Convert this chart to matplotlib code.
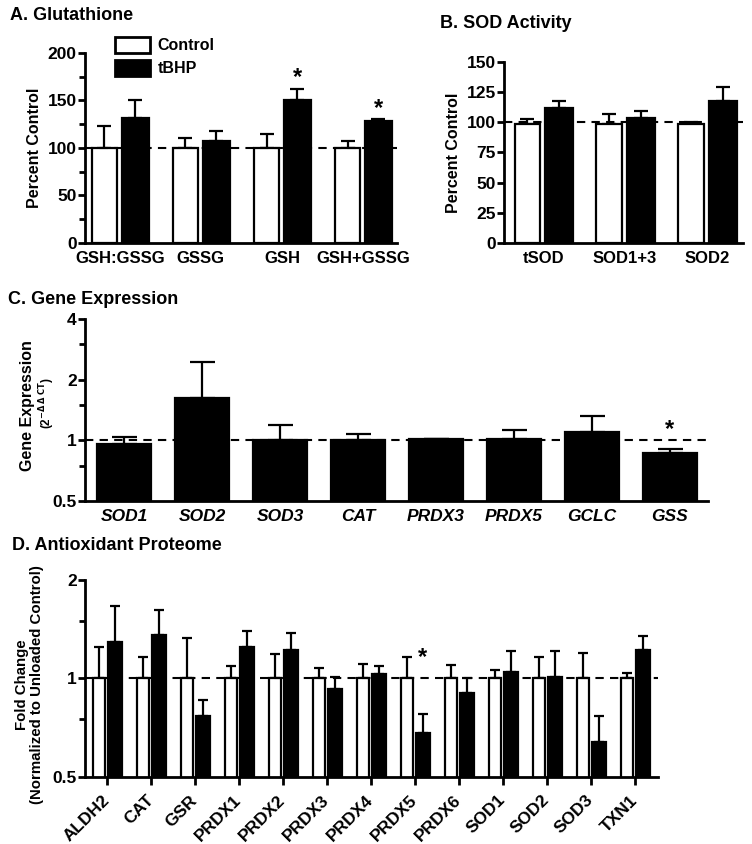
import matplotlib
matplotlib.use('Agg')
import matplotlib.pyplot as plt
from matplotlib.patches import Patch
import numpy as np

plt.rcParams['font.family'] = ['Liberation Sans', 'DejaVu Sans']
plt.rcParams['font.weight'] = 'bold'

# --- A. Glutathione (percent control)
a_cats = ['GSH:GSSG', 'GSSG', 'GSH', 'GSH+GSSG']
a_ctrl = [100, 100, 100, 100]
a_ctrl_top = [123, 111, 115, 107]
a_tbhp = [132, 107, 150, 128]
a_tbhp_top = [150, 118, 162, 130.5]
a_star = {'GSH': 174, 'GSH+GSSG': 142}

# --- B. SOD activity (percent control)
b_cats = ['tSOD', 'SOD1+3', 'SOD2']
b_ctrl = [99, 99, 99]
b_ctrl_top = [103, 107, 100]
b_tbhp = [112, 103.5, 118]
b_tbhp_top = [117.5, 109.5, 129]

# --- C. Gene expression (2^-ddCT)
c_genes = ['SOD1', 'SOD2', 'SOD3', 'CAT', 'PRDX3', 'PRDX5', 'GCLC', 'GSS']
c_vals = [0.96, 1.63, 1.0, 1.0, 1.015, 1.01, 1.10, 0.87]
c_top = [1.035, 2.44, 1.19, 1.08, 1.02, 1.12, 1.32, 0.91]
c_star = {'GSS': 1.13}

# --- D. Antioxidant proteome (fold change)
d_prot = ['ALDH2', 'CAT', 'GSR', 'PRDX1', 'PRDX2', 'PRDX3', 'PRDX4',
          'PRDX5', 'PRDX6', 'SOD1', 'SOD2', 'SOD3', 'TXN1']
d_ctrl = [1.0] * 13
d_ctrl_top = [1.25, 1.16, 1.33, 1.09, 1.19, 1.08, 1.11,
              1.16, 1.10, 1.06, 1.16, 1.20, 1.04]
d_tbhp = [1.29, 1.36, 0.77, 1.25, 1.22, 0.93, 1.03,
          0.68, 0.90, 1.05, 1.01, 0.64, 1.22]
d_tbhp_top = [1.66, 1.62, 0.86, 1.40, 1.38, 1.01, 1.09,
              0.78, 1.00, 1.21, 1.21, 0.77, 1.35]
d_star = {'PRDX5': 1.16}

fig = plt.figure(figsize=(7.52, 8.44), dpi=100)
lw = 2


def style(ax):
    for s in ['top', 'right']:
        ax.spines[s].set_visible(False)
    for s in ['left', 'bottom']:
        ax.spines[s].set_linewidth(lw)
    ax.tick_params(axis='y', width=lw, length=5, labelsize=12.5, pad=1)
    ax.tick_params(axis='y', which='minor', width=lw, length=4)
    for t in ax.get_yticklabels():
        t.set_fontweight('bold')


def bars(ax, x, vals, tops, color, width, capsize):
    vals = np.array(vals, dtype=float)
    err = np.array(tops, dtype=float) - vals
    ax.bar(x, vals, width, color=color, edgecolor='black', linewidth=1.6, zorder=2)
    ax.errorbar(x, vals, yerr=[np.zeros_like(err), err], fmt='none', ecolor='black',
                elinewidth=1.6, capsize=capsize, capthick=1.6, zorder=1)


# Panel A
axA = fig.add_axes([0.1130, 0.7121, 0.4149, 0.2251])
xa = np.arange(len(a_cats))
bars(axA, xa - 0.19, a_ctrl, a_ctrl_top, 'white', 0.31, 5)
bars(axA, xa + 0.19, a_tbhp, a_tbhp_top, 'black', 0.33, 5)
axA.axhline(100, color='black', ls='--', lw=1.5, dashes=(4, 3), zorder=3)
axA.set_xlim(-0.43, 3.42)
axA.set_ylim(0, 200)
axA.set_yticks([0, 50, 100, 150, 200])
axA.set_yticks(np.arange(0, 201, 25), minor=True)
axA.set_xticks(xa)
axA.set_xticklabels(a_cats, fontsize=12, fontweight='bold')
axA.tick_params(axis='x', length=0, pad=6)
axA.set_ylabel('Percent Control', fontsize=11.5, fontweight='bold', labelpad=4)
style(axA)
for k, v in a_star.items():
    axA.text(a_cats.index(k) + 0.19, v, '*', ha='center', va='center', fontsize=17)
handles = [Patch(facecolor='white', edgecolor='black', linewidth=2),
           Patch(facecolor='black', edgecolor='black', linewidth=2)]
axA.legend(handles, ['Control', 'tBHP'], loc='upper left', bbox_to_anchor=(0.095, 1.085),
           frameon=False, handlelength=2.2, handleheight=1.2, borderpad=0,
           borderaxespad=0, labelspacing=0.4, handletextpad=0.5,
           prop={'size': 11.5, 'weight': 'bold'})

# Panel B
axB = fig.add_axes([0.6702, 0.7121, 0.3178, 0.2145])
xb = np.arange(len(b_cats))
bars(axB, xb - 0.195, b_ctrl, b_ctrl_top, 'white', 0.31, 5)
bars(axB, xb + 0.195, b_tbhp, b_tbhp_top, 'black', 0.34, 5)
axB.axhline(100, color='black', ls='--', lw=1.5, dashes=(4, 3), zorder=3)
axB.set_xlim(-0.48, 2.44)
axB.set_ylim(0, 150)
axB.set_yticks(np.arange(0, 151, 25))
axB.set_xticks(xb)
axB.set_xticklabels(b_cats, fontsize=12, fontweight='bold')
axB.tick_params(axis='x', length=0, pad=6)
axB.set_ylabel('Percent Control', fontsize=11.5, fontweight='bold', labelpad=4)
style(axB)

# Panel C
axC = fig.add_axes([0.1130, 0.4064, 0.8285, 0.2156])
xc = np.arange(len(c_genes))
axC.set_yscale('log', base=2)
bars(axC, xc, c_vals, c_top, 'black', 0.69, 9)
axC.axhline(1, color='black', ls='--', lw=1.5, dashes=(4, 3), zorder=3)
axC.set_xlim(-0.5, 7.49)
axC.set_ylim(0.5, 4)
axC.set_yticks([0.5, 1, 2, 4])
axC.set_yticklabels(['0.5', '1', '2', '4'])
axC.set_yticks([0.75, 1.5, 3], minor=True)
axC.set_yticklabels([], minor=True)
axC.set_xticks(xc)
axC.set_xticklabels(c_genes, fontsize=12.5, fontweight='bold', style='italic')
axC.tick_params(axis='x', length=0, pad=6)
style(axC)
fig.text(28 / 752, 1 - 406 / 844, 'Gene Expression', rotation=90, ha='center',
         va='center', fontsize=11.5, fontweight='bold')
fig.text(47 / 752, 1 - 403 / 844, r'(2$^{\mathbf{-\Delta\,\Delta\ CT}}$)', rotation=90,
         ha='center', va='center', fontsize=8.5, fontweight='bold')
for k, v in c_star.items():
    axC.text(c_genes.index(k), v, '*', ha='center', va='center', fontsize=17)

# Panel D
axD = fig.add_axes([0.1130, 0.0794, 0.7620, 0.2334])
xd = np.arange(len(d_prot))
axD.set_yscale('log', base=2)
bars(axD, xd - 0.18, d_ctrl, d_ctrl_top, 'white', 0.27, 3.5)
bars(axD, xd + 0.18, d_tbhp, d_tbhp_top, 'black', 0.31, 3.5)
axD.axhline(1, color='black', ls='--', lw=1.5, dashes=(4, 3), zorder=3)
axD.set_xlim(-0.5, 12.52)
axD.set_ylim(0.5, 2)
axD.set_yticks([0.5, 1, 2])
axD.set_yticklabels(['0.5', '1', '2'])
axD.set_yticks([0.75, 1.5], minor=True)
axD.set_yticklabels([], minor=True)
axD.set_xticks(xd)
axD.set_xticklabels(d_prot, fontsize=12.5, fontweight='bold', rotation=45,
                    ha='right', va='center', rotation_mode='anchor')
axD.tick_params(axis='x', width=lw, length=6, pad=9)
axD.set_ylabel('Fold Change\n(Normalized to Unloaded Control)', fontsize=10.8,
               fontweight='bold', linespacing=1.1)
axD.yaxis.set_label_coords(-0.072, 0.47)
style(axD)
for k, v in d_star.items():
    axD.text(d_prot.index(k) + 0.18, v, '*', ha='center', va='center', fontsize=17)

# Panel titles
fig.text(10 / 752, 1 - 16 / 844, 'A. Glutathione', fontsize=13, fontweight='bold', va='center')
fig.text(440 / 752, 1 - 23 / 844, 'B. SOD Activity', fontsize=13, fontweight='bold', va='center')
fig.text(8 / 752, 1 - 300 / 844, 'C. Gene Expression', fontsize=13, fontweight='bold', va='center')
fig.text(12 / 752, 1 - 546 / 844, 'D. Antioxidant Proteome', fontsize=13, fontweight='bold', va='center')

fig.savefig('out.png', dpi=100)
